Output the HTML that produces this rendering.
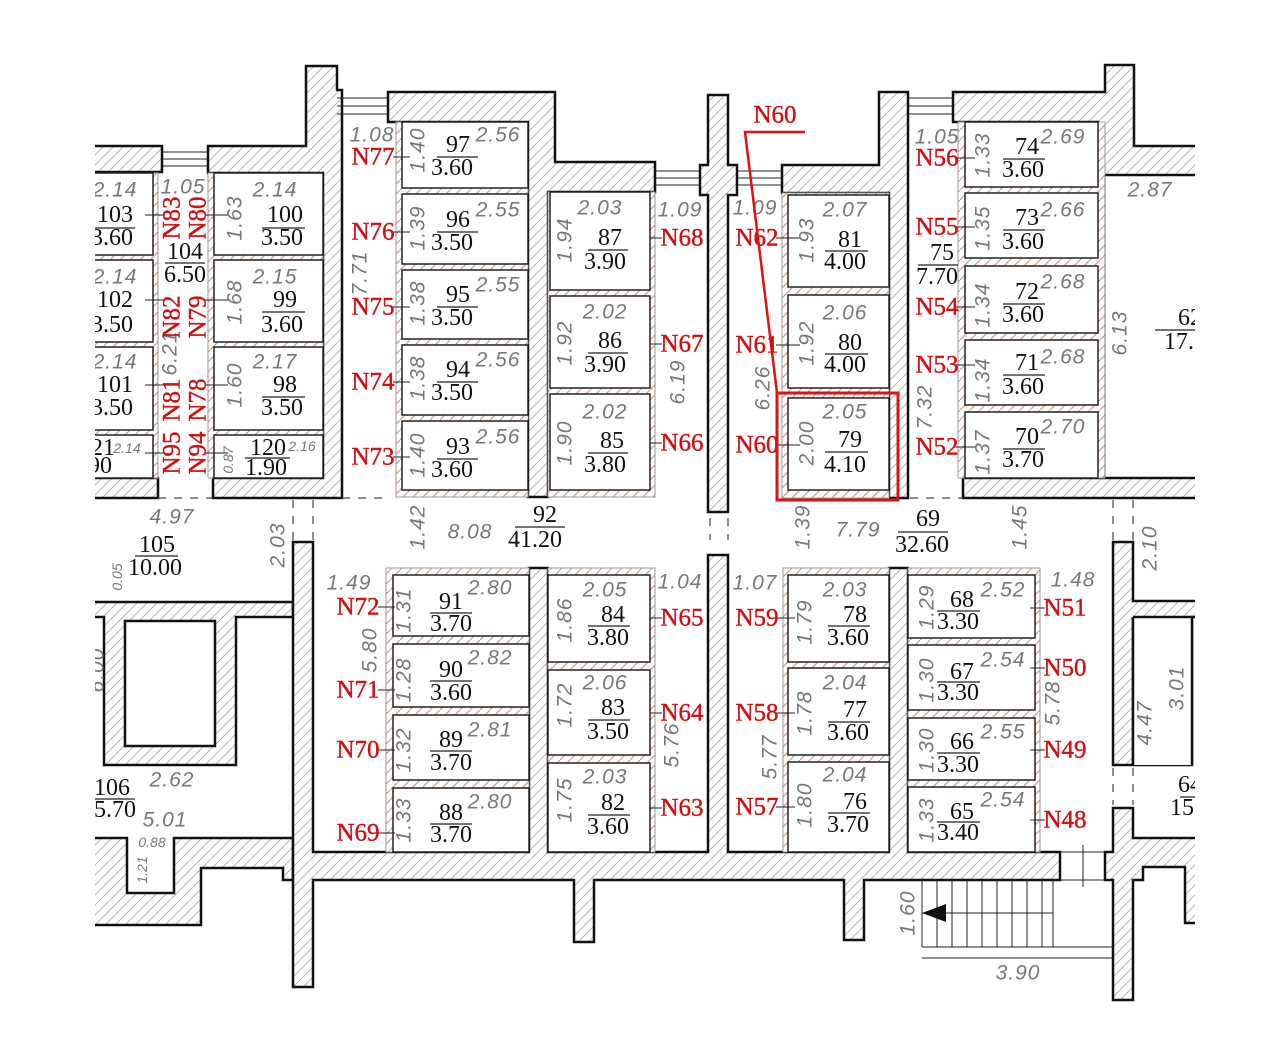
<!DOCTYPE html>
<html><head><meta charset="utf-8">
<style>
html,body{margin:0;padding:0;background:#fff;}
svg{display:block;}
.n{font-family:"Liberation Serif",serif;font-size:24px;fill:#111;text-anchor:middle;dominant-baseline:central;}
.d{font-family:"Liberation Sans",sans-serif;font-style:italic;font-size:21px;fill:#777;text-anchor:middle;dominant-baseline:central;letter-spacing:1px;}
.s{font-family:"Liberation Sans",sans-serif;font-style:italic;font-size:14px;fill:#777;text-anchor:middle;dominant-baseline:central;}
.r{font-family:"Liberation Serif",serif;font-size:25px;fill:#d01010;text-anchor:middle;dominant-baseline:central;stroke:#d01010;stroke-width:0.4;}
.w{fill:url(#h);stroke:#111;stroke-width:2.5;}
.f{fill:url(#o);stroke:#999;stroke-width:1;}
.rm{fill:#fff;stroke:#222;stroke-width:1.5;}
.ln{stroke:#222;stroke-width:1;fill:none;}
.ds{stroke:#444;stroke-width:1.2;stroke-dasharray:8 8;fill:none;}
</style></head><body>
<svg width="1280" height="1047" viewBox="0 0 1280 1047" xmlns="http://www.w3.org/2000/svg">
<defs>
<pattern id="h" patternUnits="userSpaceOnUse" width="10" height="10"><rect width="10" height="10" fill="#fff"/><path d="M0,10 L10,0" stroke="#aaa" stroke-width="0.9"/></pattern>
<pattern id="o" patternUnits="userSpaceOnUse" width="10" height="10"><rect width="10" height="10" fill="#fff"/><path d="M0,10 L10,0" stroke="#d59a7a" stroke-width="1.2"/></pattern>
<clipPath id="c"><rect x="95" y="0" width="1100" height="1047"/></clipPath>
</defs>
<g clip-path="url(#c)">
<polygon class="w" points="80,146 162,146 162,172 80,172"/>
<polygon class="w" points="208,146 306,146 306,66 337,66 337,90 342,90 342,498 213,498 213,478 323,478 323,173 208,173"/>
<polygon class="w" points="80,478 158,478 158,498 80,498"/>
<polygon class="w" points="388,92 555,92 555,162 655,162 655,192 548,192 548,497 528,497 528,122 388,122"/>
<polygon class="w" points="708,95 728,95 728,165 737,165 737,195 728,195 728,512 708,512 708,195 700,195 700,165 708,165"/>
<polygon class="w" points="782,165 879,165 879,92 908,92 908,498 889,498 889,193 782,193"/>
<polygon class="w" points="953,92 1105,92 1105,65 1134,65 1134,146 1210,146 1210,175 1098,175 1098,122 953,122"/>
<polygon class="w" points="963,478 1210,478 1210,498 963,498"/>
<g class="ln"><path d="M162,152H208M162,159H208M162,166H208"/><path d="M337,98H388M337,106H388M337,114H388"/><path d="M655,171H700M655,178H700M655,185H700M737,171H782M737,178H782M737,185H782"/><path d="M908,98H953M908,106H953M908,114H953"/></g>

<rect class="f" x="90" y="173" width="68" height="305"/>
<rect class="rm" x="80" y="173" width="73" height="82"/><rect class="rm" x="80" y="260" width="73" height="82"/><rect class="rm" x="80" y="347" width="73" height="83"/><rect class="rm" x="80" y="435" width="73" height="43"/>
<rect class="f" x="208" y="173" width="115" height="305"/>
<rect class="rm" x="214" y="173" width="109" height="82"/><rect class="rm" x="214" y="260" width="109" height="82"/><rect class="rm" x="214" y="347" width="109" height="83"/><rect class="rm" x="214" y="435" width="109" height="43"/>
<rect class="f" x="396" y="122" width="132" height="375"/>
<rect class="rm" x="402" y="122" width="126" height="66"/><rect class="rm" x="402" y="194" width="126" height="70"/><rect class="rm" x="402" y="270" width="126" height="69"/><rect class="rm" x="402" y="345" width="126" height="70"/><rect class="rm" x="402" y="421" width="126" height="69"/>
<rect class="f" x="548" y="192" width="107" height="305"/>
<rect class="rm" x="550" y="192" width="100" height="98"/><rect class="rm" x="550" y="296" width="100" height="92"/><rect class="rm" x="550" y="394" width="100" height="96"/>
<rect class="f" x="782" y="193" width="107" height="305"/>
<rect class="rm" x="788" y="195" width="101" height="92"/><rect class="rm" x="788" y="295" width="101" height="93"/><rect class="rm" x="788" y="398" width="101" height="92"/>
<rect class="f" x="958" y="122" width="147" height="356"/>
<rect class="rm" x="965" y="122" width="133" height="65"/><rect class="rm" x="965" y="193" width="133" height="65"/><rect class="rm" x="965" y="266" width="133" height="67"/><rect class="rm" x="965" y="340" width="133" height="65"/><rect class="rm" x="965" y="412" width="133" height="66"/>
<line x1="1105" y1="175" x2="1105" y2="478" stroke="#777" stroke-width="1"/>

<polygon class="w" points="95,602 293,602 293,617 236,617 236,765 104,765 104,617 80,617 80,602"/>
<rect x="125" y="621" width="90" height="125" fill="#fff" stroke="#111" stroke-width="2.5"/>
<polygon class="w" points="80,838 127,838 127,893 174,893 174,838 293,838 293,880 283,880 283,868 201,868 201,925 80,925"/>
<polygon class="w" points="293,542 313,542 313,852 529,852 529,568 548,568 548,852 708,852 708,555 728,555 728,852 889,852 889,568 908,568 908,852 1060,852 1060,880 864,880 864,940 844,940 844,880 594,880 594,942 574,942 574,880 313,880 313,987 293,987"/>
<polygon class="w" points="1113,542 1133,542 1133,601 1210,601 1210,617 1192,617 1192,765 1133,765 1133,617 1133,765 1113,765"/>
<rect x="1133" y="617" width="59" height="148" fill="#fff"/>
<path d="M1133,617H1192V765" stroke="#111" stroke-width="2.5" fill="none"/>
<line x1="1133" y1="617" x2="1133" y2="765" stroke="#111" stroke-width="2.5"/>
<polygon class="w" points="1113,808 1133,808 1133,838 1210,838 1210,923 1185,923 1185,867 1143,867 1143,880 1133,880 1133,1000 1113,1000 1113,880 1105,880 1105,852 1113,852"/>

<rect class="f" x="386" y="568" width="143" height="284"/>
<rect class="rm" x="393" y="575" width="136" height="61"/><rect class="rm" x="393" y="644" width="136" height="63"/><rect class="rm" x="393" y="715" width="136" height="65"/><rect class="rm" x="393" y="788" width="136" height="64"/>
<rect class="f" x="548" y="568" width="107" height="284"/>
<rect class="rm" x="548" y="575" width="102" height="87"/><rect class="rm" x="548" y="670" width="102" height="85"/><rect class="rm" x="548" y="763" width="102" height="89"/>
<rect class="f" x="783" y="568" width="106" height="284"/>
<rect class="rm" x="788" y="575" width="101" height="87"/><rect class="rm" x="788" y="668" width="101" height="87"/><rect class="rm" x="788" y="762" width="101" height="90"/>
<rect class="f" x="908" y="568" width="132" height="284"/>
<rect class="rm" x="908" y="575" width="127" height="63"/><rect class="rm" x="908" y="645" width="127" height="65"/><rect class="rm" x="908" y="718" width="127" height="62"/><rect class="rm" x="908" y="787" width="127" height="65"/>

<g class="ln">
<path d="M922,880V947M937,880V947M952,880V947M967,880V947M982,880V947M997,880V947M1012,880V947M1027,880V947M1042,880V947M1053,880V947"/>
<path d="M922,947H1113M922,958H1113M922,913H1053M1060,852H1105M1060,880H1105M1083,845V887"/>
</g>
<polygon points="922,913 946,904 946,922" fill="#111"/>

<path class="ds" d="M158,498H213M342,498H388M910,498H963M293,500V540M313,500V540M710,518V540M728,518V540M1113,500V540M1133,500V540M1113,768V805M1133,768V805"/>

<g class="ln">
<path d="M145,215H165M145,300H165M145,385H165M145,453H165M205,215H228M205,300H228M205,385H228M205,453H228"/>
<path d="M393,157H410M393,232H410M393,307H410M393,382H410M393,457H410"/>
<path d="M650,238H662M650,344H662M650,443H662M776,238H800M776,345H800M776,445H800"/>
<path d="M955,158H975M955,227H975M955,307H975M955,365H975M955,447H975"/>
<path d="M378,607H395M378,690H395M378,750H395M378,833H395M650,618H662M650,713H662M650,808H662M776,618H795M776,713H795M776,807H795M1030,608H1045M1030,668H1045M1030,750H1045M1030,820H1045"/>
</g>

<g class="n">
<text x="115" y="215">103</text><text x="112" y="238">3.60</text>
<text x="115" y="300">102</text><text x="112" y="325">3.50</text>
<text x="115" y="385">101</text><text x="112" y="408">3.50</text>
<text x="103" y="448">21</text><text x="100" y="466">90</text>
<text x="185" y="252">104</text><text x="185" y="275">6.50</text>
<text x="285" y="215">100</text><text x="282" y="238">3.50</text>
<text x="285" y="300">99</text><text x="282" y="325">3.60</text>
<text x="285" y="385">98</text><text x="282" y="408">3.50</text>
<text x="268" y="448">120</text><text x="266" y="468">1.90</text>
<text x="458" y="145">97</text><text x="452" y="168">3.60</text>
<text x="458" y="220">96</text><text x="452" y="243">3.50</text>
<text x="458" y="295">95</text><text x="452" y="318">3.50</text>
<text x="458" y="370">94</text><text x="452" y="393">3.50</text>
<text x="458" y="447">93</text><text x="452" y="470">3.60</text>
<text x="610" y="238">87</text><text x="605" y="262">3.90</text>
<text x="610" y="341">86</text><text x="605" y="365">3.90</text>
<text x="612" y="441">85</text><text x="605" y="465">3.80</text>
<text x="850" y="240">81</text><text x="845" y="262">4.00</text>
<text x="850" y="343">80</text><text x="845" y="365">4.00</text>
<text x="850" y="440">79</text><text x="845" y="465">4.10</text>
<text x="942" y="253">75</text><text x="937" y="277">7.70</text>
<text x="1027" y="147">74</text><text x="1023" y="170">3.60</text>
<text x="1027" y="218">73</text><text x="1023" y="242">3.60</text>
<text x="1027" y="292">72</text><text x="1023" y="315">3.60</text>
<text x="1027" y="363">71</text><text x="1023" y="387">3.60</text>
<text x="1027" y="437">70</text><text x="1023" y="460">3.70</text>
<text x="1190" y="318">62</text><text x="1185" y="342">17.6</text>
<text x="157" y="545">105</text><text x="155" y="568">10.00</text>
<text x="545" y="515">92</text><text x="535" y="540">41.20</text>
<text x="928" y="519">69</text><text x="922" y="545">32.60</text>
<text x="112" y="788">106</text><text x="115" y="810">5.70</text>
<text x="451" y="602">91</text><text x="451" y="624">3.70</text>
<text x="451" y="670">90</text><text x="451" y="693">3.60</text>
<text x="451" y="740">89</text><text x="451" y="763">3.70</text>
<text x="451" y="813">88</text><text x="451" y="835">3.70</text>
<text x="613" y="615">84</text><text x="608" y="638">3.80</text>
<text x="613" y="708">83</text><text x="608" y="732">3.50</text>
<text x="613" y="803">82</text><text x="608" y="827">3.60</text>
<text x="855" y="615">78</text><text x="848" y="638">3.60</text>
<text x="855" y="710">77</text><text x="848" y="733">3.60</text>
<text x="855" y="802">76</text><text x="848" y="825">3.70</text>
<text x="962" y="600">68</text><text x="958" y="622">3.30</text>
<text x="962" y="672">67</text><text x="958" y="693">3.30</text>
<text x="962" y="742">66</text><text x="958" y="765">3.30</text>
<text x="962" y="812">65</text><text x="958" y="833">3.40</text>
<text x="1190" y="785">64</text><text x="1185" y="808">15.</text>
</g>
<g stroke="#222" stroke-width="1.2">
<path d="M88,228H135M165,263H205M262,228H305M262,312H305M262,397H305M245,458H290"/>
<path d="M437,157H478M437,232H478M437,307H478M437,382H478M437,459H478"/>
<path d="M588,250H628M588,353H628M588,453H628M825,251H868M825,354H868M825,452H868M918,265H958"/>
<path d="M1003,159H1045M1003,230H1045M1003,304H1045M1003,375H1045M1003,449H1045"/>
<path d="M1155,330H1195M135,556H178M515,527H565M898,532H948M90,799H135"/>
<path d="M430,613H472M430,681H472M430,751H472M430,824H472M588,626H630M588,720H630M588,815H630"/>
<path d="M828,626H870M828,722H870M828,813H870M937,611H980M937,682H980M937,753H980M937,822H980M1180,797H1195"/>
</g>

<g class="d">
<text x="115" y="190">2.14</text><text x="115" y="277">2.14</text><text x="115" y="362">2.14</text>
<text x="183" y="187">1.05</text>
<text x="275" y="190">2.14</text><text x="275" y="277">2.15</text><text x="275" y="362">2.17</text>
<text x="372" y="135">1.08</text>
<text x="498" y="135">2.56</text><text x="498" y="210">2.55</text><text x="498" y="285">2.55</text><text x="498" y="360">2.56</text><text x="498" y="437">2.56</text>
<text x="600" y="208">2.03</text><text x="605" y="312">2.02</text><text x="605" y="412">2.02</text>
<text x="680" y="210">1.09</text><text x="755" y="208">1.09</text>
<text x="845" y="210">2.07</text><text x="845" y="313">2.06</text><text x="845" y="412">2.05</text>
<text x="937" y="137">1.05</text>
<text x="1063" y="137">2.69</text><text x="1063" y="210">2.66</text><text x="1063" y="282">2.68</text><text x="1063" y="357">2.68</text><text x="1063" y="427">2.70</text>
<text x="1150" y="190">2.87</text>
<text x="172" y="517">4.97</text><text x="470" y="532">8.08</text><text x="858" y="530">7.79</text>
<text x="349" y="583">1.49</text><text x="490" y="588">2.80</text><text x="490" y="658">2.82</text><text x="490" y="730">2.81</text><text x="490" y="802">2.80</text>
<text x="605" y="590">2.05</text><text x="605" y="683">2.06</text><text x="605" y="777">2.03</text>
<text x="680" y="582">1.04</text><text x="755" y="583">1.07</text>
<text x="845" y="590">2.03</text><text x="845" y="683">2.04</text><text x="845" y="775">2.04</text>
<text x="1003" y="590">2.52</text><text x="1003" y="660">2.54</text><text x="1003" y="732">2.55</text><text x="1003" y="800">2.54</text>
<text x="1073" y="580">1.48</text>
<text x="172" y="780">2.62</text><text x="165" y="820">5.01</text>
<text x="1018" y="973">3.90</text>
</g>
<g class="s">
<text x="127" y="448">2.14</text><text x="302" y="446">2.16</text><text x="152" y="842">0.88</text>
<text transform="translate(228,460) rotate(-90)">0.87</text>
<text transform="translate(117,577) rotate(-90)">0.05</text>
<text transform="translate(142,870) rotate(-90)">1.21</text>
</g>
<g class="d">
<text transform="translate(235,218) rotate(-90)">1.63</text>
<text transform="translate(235,302) rotate(-90)">1.68</text>
<text transform="translate(235,385) rotate(-90)">1.60</text>
<text transform="translate(170,353) rotate(-90)">6.21</text>
<text transform="translate(360,273) rotate(-90)">7.71</text>
<text transform="translate(418,150) rotate(-90)">1.40</text>
<text transform="translate(418,228) rotate(-90)">1.39</text>
<text transform="translate(418,303) rotate(-90)">1.38</text>
<text transform="translate(418,378) rotate(-90)">1.38</text>
<text transform="translate(418,455) rotate(-90)">1.40</text>
<text transform="translate(565,240) rotate(-90)">1.94</text>
<text transform="translate(565,343) rotate(-90)">1.92</text>
<text transform="translate(565,443) rotate(-90)">1.90</text>
<text transform="translate(678,382) rotate(-90)">6.19</text>
<text transform="translate(763,388) rotate(-90)">6.26</text>
<text transform="translate(807,240) rotate(-90)">1.93</text>
<text transform="translate(807,343) rotate(-90)">1.92</text>
<text transform="translate(807,443) rotate(-90)">2.00</text>
<text transform="translate(925,407) rotate(-90)">7.32</text>
<text transform="translate(983,155) rotate(-90)">1.33</text>
<text transform="translate(983,228) rotate(-90)">1.35</text>
<text transform="translate(983,305) rotate(-90)">1.34</text>
<text transform="translate(983,380) rotate(-90)">1.34</text>
<text transform="translate(983,452) rotate(-90)">1.37</text>
<text transform="translate(1120,333) rotate(-90)">6.13</text>
<text transform="translate(278,545) rotate(-90)">2.03</text>
<text transform="translate(418,527) rotate(-90)">1.42</text>
<text transform="translate(803,527) rotate(-90)">1.39</text>
<text transform="translate(1020,527) rotate(-90)">1.45</text>
<text transform="translate(1150,548) rotate(-90)">2.10</text>
<text transform="translate(370,650) rotate(-90)">5.80</text>
<text transform="translate(404,610) rotate(-90)">1.31</text>
<text transform="translate(404,680) rotate(-90)">1.28</text>
<text transform="translate(404,750) rotate(-90)">1.32</text>
<text transform="translate(404,820) rotate(-90)">1.33</text>
<text transform="translate(565,620) rotate(-90)">1.86</text>
<text transform="translate(565,705) rotate(-90)">1.72</text>
<text transform="translate(565,800) rotate(-90)">1.75</text>
<text transform="translate(672,745) rotate(-90)">5.76</text>
<text transform="translate(770,757) rotate(-90)">5.77</text>
<text transform="translate(805,622) rotate(-90)">1.79</text>
<text transform="translate(805,713) rotate(-90)">1.78</text>
<text transform="translate(805,805) rotate(-90)">1.80</text>
<text transform="translate(927,607) rotate(-90)">1.29</text>
<text transform="translate(927,680) rotate(-90)">1.30</text>
<text transform="translate(927,750) rotate(-90)">1.30</text>
<text transform="translate(927,820) rotate(-90)">1.33</text>
<text transform="translate(1053,703) rotate(-90)">5.78</text>
<text transform="translate(1145,723) rotate(-90)">4.47</text>
<text transform="translate(1177,688) rotate(-90)">3.01</text>
<text transform="translate(908,913) rotate(-90)">1.60</text>
<text transform="translate(97,670) rotate(-90)">6.00</text>
</g>

<g class="r">
<text transform="translate(172,218) rotate(-90)">N83</text>
<text transform="translate(198,218) rotate(-90)">N80</text>
<text transform="translate(172,317) rotate(-90)">N82</text>
<text transform="translate(198,317) rotate(-90)">N79</text>
<text transform="translate(172,400) rotate(-90)">N81</text>
<text transform="translate(198,400) rotate(-90)">N78</text>
<text transform="translate(172,453) rotate(-90)">N95</text>
<text transform="translate(198,453) rotate(-90)">N94</text>
<text x="373" y="157">N77</text><text x="373" y="232">N76</text><text x="373" y="307">N75</text><text x="373" y="382">N74</text><text x="373" y="457">N73</text>
<text x="682" y="238">N68</text><text x="682" y="344">N67</text><text x="682" y="443">N66</text>
<text x="757" y="238">N62</text><text x="757" y="345">N61</text><text x="757" y="445">N60</text>
<text x="775" y="115">N60</text>
<text x="937" y="158">N56</text><text x="937" y="227">N55</text><text x="937" y="307">N54</text><text x="937" y="365">N53</text><text x="937" y="447">N52</text>
<text x="358" y="607">N72</text><text x="358" y="690">N71</text><text x="358" y="750">N70</text><text x="358" y="833">N69</text>
<text x="682" y="618">N65</text><text x="682" y="713">N64</text><text x="682" y="808">N63</text>
<text x="757" y="618">N59</text><text x="757" y="713">N58</text><text x="757" y="807">N57</text>
<text x="1065" y="608">N51</text><text x="1065" y="668">N50</text><text x="1065" y="750">N49</text><text x="1065" y="820">N48</text>
</g>
<path d="M805,132H745L777,393" stroke="#d11" stroke-width="2.5" fill="none"/>
<rect x="777" y="393" width="121" height="107" fill="none" stroke="#d11" stroke-width="3"/>
</g>
</svg>
</body></html>
